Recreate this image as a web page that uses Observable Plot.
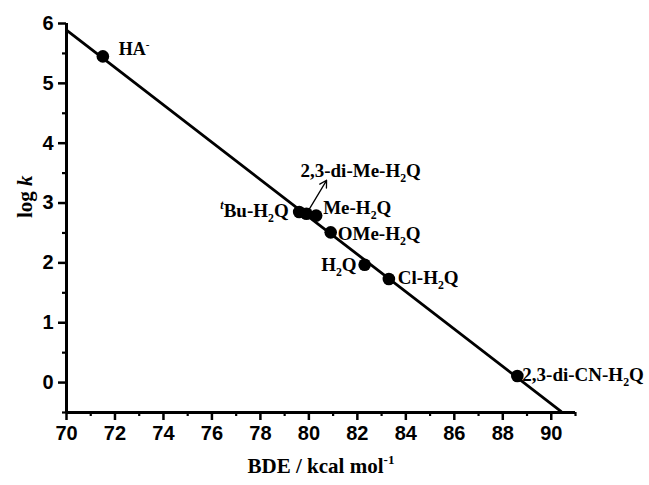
<!DOCTYPE html>
<html>
<head>
<meta charset="utf-8">
<script src="https://cdn.jsdelivr.net/npm/d3@7"></script>
<script src="https://cdn.jsdelivr.net/npm/@observablehq/plot@0.6"></script>
<style>
  html, body { margin: 0; padding: 0; background: #fff; }
  #chart { width: 649px; height: 485px; }
</style>
</head>
<body>
<div id="chart"></div>
<script>
// ---- data ----
const compounds = ["HA^{-}", "~{t}Bu-H_{2}Q", "2,3-di-Me-H_{2}Q", "Me-H_{2}Q", "OMe-H_{2}Q", "H_{2}Q", "Cl-H_{2}Q", "2,3-di-CN-H_{2}Q"];
const bde = [71.5, 79.6, 79.9, 80.3, 80.9, 82.3, 83.3, 88.6];
const logk = [5.45, 2.85, 2.82, 2.79, 2.51, 1.97, 1.73, 0.11];
const fitX = [70, 90.4];
const fitY = [5.89, -0.48];
const arrowFrom = [79.9, 2.82];
const arrowTo = [80.73, 3.38];
const xMajor = [70, 72, 74, 76, 78, 80, 82, 84, 86, 88, 90];
const xMinor = [71, 73, 75, 77, 79, 81, 83, 85, 87, 89, 91];
const yMajor = [0, 1, 2, 3, 4, 5, 6];
const yMinor = [-0.5, 0.5, 1.5, 2.5, 3.5, 4.5, 5.5];
const xTitle = "BDE / kcal mol^{-1}";
const yTitle = "log *{k}";

// ---- label layout (pixel offsets from each point) ----
const labelLayout = [
  {dx: 16, dy: -7, anchor: "start", size: 18},
  {dx: -10.5, dy: -1.5, anchor: "end", size: 19},
  {dx: -6, dy: -43, anchor: "start", size: 19},
  {dx: 7, dy: -7.5, anchor: "start", size: 19},
  {dx: 7, dy: 2, anchor: "start", size: 19},
  {dx: -8, dy: 0, anchor: "end", size: 19},
  {dx: 9, dy: -1.5, anchor: "start", size: 19},
  {dx: 5, dy: -1.5, anchor: "start", size: 19}
];

const points = bde.map((x, i) => ({x, y: logk[i], name: compounds[i]}));
const fit = fitX.map((x, i) => ({x, y: fitY[i]}));
const serif = "'Liberation Serif', 'Times New Roman', serif";
const sans = "'Liberation Sans', Arial, sans-serif";

const labelMarks = points.map((p, i) => Plot.text([p], {
  x: "x", y: "y", text: "name",
  dx: labelLayout[i].dx, dy: labelLayout[i].dy,
  textAnchor: labelLayout[i].anchor, lineAnchor: "middle",
  fontFamily: serif, fontWeight: "bold", fontSize: labelLayout[i].size, fill: "black"
}));

const plot = Plot.plot({
  width: 649,
  height: 485,
  marginLeft: 66,
  marginRight: 74,
  marginTop: 23,
  marginBottom: 73,
  style: {fontFamily: sans, fontSize: "20px", fontWeight: "bold", background: "white", color: "black"},
  x: {domain: [70, 91], label: null},
  y: {domain: [-0.5, 6], label: null},
  marks: [
    Plot.axisX(xMinor, {tickSize: 4, strokeWidth: 2.2, tickFormat: () => "", label: null}),
    Plot.axisX(xMajor, {tickSize: 8, strokeWidth: 2.5, tickPadding: 5, tickFormat: d => String(d), label: null, fontSize: 20, fontFamily: sans, fontWeight: "bold"}),
    Plot.axisY(yMinor, {tickSize: 4, strokeWidth: 2.2, tickFormat: () => "", label: null}),
    Plot.axisY(yMajor, {tickSize: 8, strokeWidth: 2.5, tickPadding: 5, tickFormat: d => String(d), label: null, fontSize: 20, fontFamily: sans, fontWeight: "bold"}),
    Plot.ruleY([-0.5], {strokeWidth: 3}),
    Plot.ruleX([70], {strokeWidth: 3}),
    Plot.line(fit, {x: "x", y: "y", stroke: "black", strokeWidth: 2.8}),
    Plot.arrow([0], {x1: () => arrowFrom[0], y1: () => arrowFrom[1], x2: () => arrowTo[0], y2: () => arrowTo[1], stroke: "black", strokeWidth: 1.3, headLength: 9}),
    Plot.dot(points, {x: "x", y: "y", r: 6.3, fill: "black", stroke: "none"}),
    ...labelMarks,
    Plot.text([xTitle], {frameAnchor: "bottom", dy: 60, fontFamily: serif, fontWeight: "bold", fontSize: 21, fill: "black"}),
    Plot.text([yTitle], {frameAnchor: "left", dx: -41, rotate: -90, fontFamily: serif, fontWeight: "bold", fontSize: 21, fill: "black"})
  ]
});

document.getElementById("chart").appendChild(plot);

// ---- rich text: subscripts / superscripts / italics ----
const NS = "http://www.w3.org/2000/svg";
const re = /([_^~*])\{([^}]*)\}/g;
plot.querySelectorAll("text").forEach(t => {
  const s = t.textContent;
  if (!re.test(s)) return;
  re.lastIndex = 0;
  const base = parseFloat(getComputedStyle(t).fontSize) || 19;
  const segs = [];
  let last = 0, m;
  while ((m = re.exec(s))) {
    if (m.index > last) segs.push({type: "", str: s.slice(last, m.index)});
    segs.push({type: m[1], str: m[2]});
    last = re.lastIndex;
  }
  if (last < s.length) segs.push({type: "", str: s.slice(last)});
  while (t.firstChild) t.removeChild(t.firstChild);
  let shift = 0;
  segs.forEach(seg => {
    const ts = document.createElementNS(NS, "tspan");
    let target = 0;
    if (seg.type === "_") { target = 0.26 * base; ts.setAttribute("font-size", (0.62 * base) + "px"); }
    else if (seg.type === "^" || seg.type === "~") { target = -0.42 * base; ts.setAttribute("font-size", (0.62 * base) + "px"); }
    if (seg.type === "~" || seg.type === "*") ts.setAttribute("font-style", "italic");
    if (target !== shift) ts.setAttribute("dy", (target - shift) + "px");
    shift = target;
    ts.textContent = seg.str;
    t.appendChild(ts);
  });
});
</script>
</body>
</html>
